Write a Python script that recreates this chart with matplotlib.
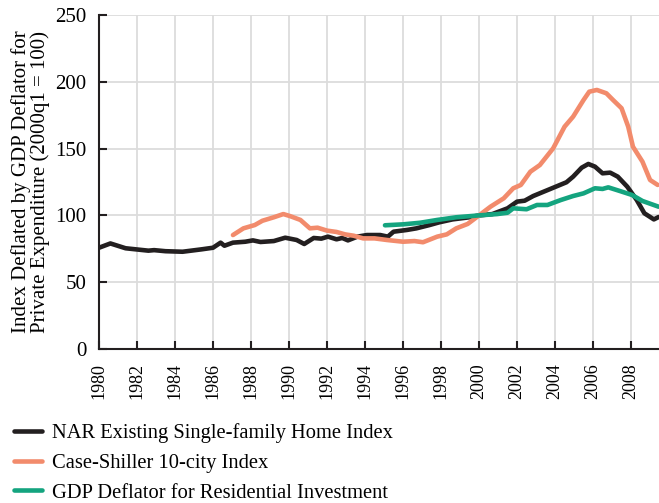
import matplotlib
matplotlib.use("Agg")
import matplotlib.pyplot as plt

# ---- data ----
nar_x = [1980.0, 1980.6, 1981.4, 1982.6, 1982.9, 1983.5, 1984.4, 1985.4, 1986.0, 1986.4, 1986.6,
         1987.05, 1987.7, 1988.1, 1988.5, 1989.2, 1989.8, 1990.4, 1990.8, 1991.3, 1991.7, 1992.05,
         1992.5, 1992.8, 1993.1, 1993.6, 1994.1, 1994.8, 1995.2, 1995.5, 1996.2, 1996.7, 1997.4,
         1997.9, 1998.6, 1999.5, 2000.0, 2000.7, 2001.5, 2002.0, 2002.4, 2002.85, 2003.7, 2004.6,
         2004.95, 2005.4, 2005.75, 2006.1, 2006.5, 2006.9, 2007.3, 2007.8, 2008.3, 2008.7, 2009.2, 2009.45]
nar_y = [75.8, 79.0, 75.4, 73.6, 74.0, 73.2, 72.8, 74.6, 75.8, 79.6, 77.3,
         79.6, 80.3, 81.3, 80.1, 80.8, 83.3, 81.6, 78.6, 83.1, 82.6, 84.1,
         82.1, 83.1, 81.3, 84.1, 85.3, 85.3, 84.1, 87.8, 89.1, 90.3, 92.8,
         94.8, 97.0, 98.6, 100.0, 101.0, 105.3, 110.3, 111.0, 114.5, 119.5, 124.8,
         129.0, 135.7, 138.5, 136.5, 131.5, 132.0, 129.0, 121.5, 111.5, 101.6, 97.0, 98.8]

cs_x = [1987.05, 1987.6, 1988.2, 1988.6, 1989.2, 1989.7, 1990.05, 1990.6, 1991.1, 1991.5, 1992.0,
        1992.5, 1992.95, 1993.4, 1993.9, 1994.5, 1995.15, 1996.0, 1996.6, 1997.05, 1997.8, 1998.3,
        1998.8, 1999.4, 2000.0, 2000.6, 2001.3, 2001.8, 2002.2, 2002.7, 2003.2, 2003.9, 2004.5,
        2004.95, 2005.5, 2005.8, 2006.2, 2006.7, 2007.05, 2007.5, 2007.85, 2008.1, 2008.6, 2009.0, 2009.4]
cs_y = [85.3, 90.3, 92.8, 96.0, 98.6, 101.0, 99.5, 96.6, 90.3, 90.8, 88.6,
        87.6, 85.8, 84.8, 82.8, 82.8, 81.6, 80.3, 80.8, 79.9, 84.1, 85.8,
        90.3, 93.6, 100.0, 106.5, 112.8, 120.3, 122.8, 132.7, 137.7, 150.2, 166.4,
        173.9, 186.4, 192.6, 193.9, 191.4, 186.4, 180.2, 166.4, 151.4, 140.2, 126.5, 122.8]

gdp_x = [1995.05, 1996.0, 1996.9, 1997.8, 1998.8, 2000.0, 2000.95, 2001.5, 2001.8, 2002.5,
         2003.05, 2003.6, 2004.3, 2004.95, 2005.5, 2006.1, 2006.5, 2006.8, 2007.4, 2008.05,
         2008.6, 2009.45]
gdp_y = [92.6, 93.3, 94.5, 96.6, 98.6, 100.0, 101.0, 102.0, 105.3, 104.6,
         107.8, 107.8, 111.5, 114.5, 116.5, 120.3, 119.8, 121.0, 118.3, 115.3,
         110.8, 106.5]

labels = ["NAR Existing Single-family Home Index",
          "Case-Shiller 10-city Index",
          "GDP Deflator for Residential Investment"]
colors = ["#231f20", "#f28b6c", "#14a47f"]

x_ticks = list(range(1980, 2010, 2))
y_ticks = [0, 50, 100, 150, 200, 250]

plt.rcParams['font.family'] = ['Liberation Serif', 'DejaVu Serif']

fig = plt.figure(figsize=(6.59, 5.03), dpi=100)
ax = fig.add_axes([99/659, 1 - 349/503, 1 - 99/659, (349 - 15)/503])

series = [(nar_x, nar_y), (cs_x, cs_y), (gdp_x, gdp_y)]
handles = []
for (xs, ys), lab, c in zip(series, labels, colors):
    h, = ax.plot(xs, ys, color=c, lw=3.3, solid_capstyle='round', solid_joinstyle='round', label=lab)
    handles.append(h)

ax.set_xlim(1980, 2009.47)
ax.set_ylim(0, 250)
ax.set_xticks(x_ticks)
ax.set_yticks(y_ticks)
ax.set_xticklabels([str(t) for t in x_ticks], rotation=90, fontsize=13)
ax.set_yticklabels([str(t) for t in y_ticks], fontsize=15)
ax.grid(True, color="#dcdcdc", lw=1.3)
ax.set_axisbelow(True)
for s in ['top', 'right']:
    ax.spines[s].set_visible(False)
for s in ['left', 'bottom']:
    ax.spines[s].set_color('#231f20')
    ax.spines[s].set_linewidth(1.5)
ax.tick_params(direction='in', length=6, width=1.5, color='#231f20')
ax.tick_params(axis='y', pad=9)
ax.tick_params(axis='x', pad=10)

ax.set_ylabel("Index Deflated by GDP Deflator for\nPrivate Expenditure (2000q1 = 100)",
              fontsize=15, linespacing=0.95, labelpad=4)

fig.legend(handles=handles, labels=labels, loc='upper left',
           bbox_to_anchor=(0.0, 1 - 409/503), frameon=False, fontsize=14.8,
           handlelength=1.35, handletextpad=0.5, labelspacing=0.5, borderaxespad=0.3)

fig.savefig("out.png", dpi=100)
